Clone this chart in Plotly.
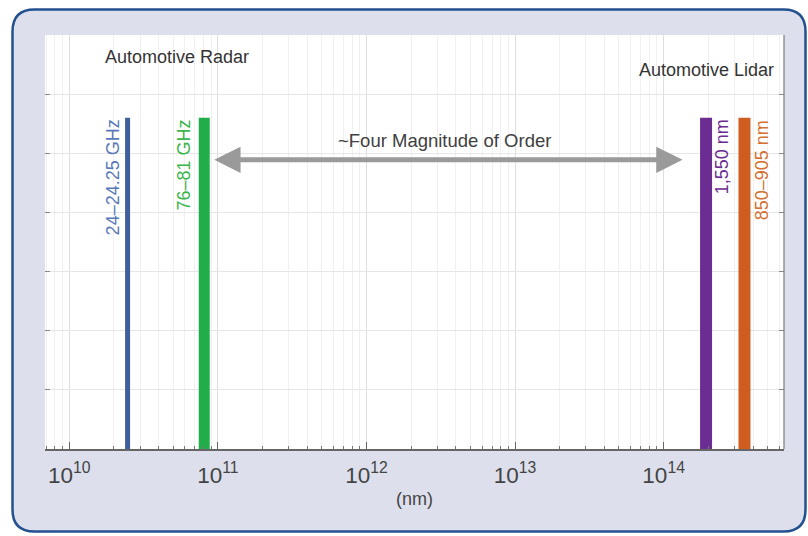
import plotly.graph_objects as go
import math

# ---- data ----
band_names = ["24–24.25 GHz", "76–81 GHz", "1,550 nm", "850–905 nm"]
band_x = [2.47e10, 8.1e10, 1.93e14, 3.5e14]
band_height = [5.6, 5.6, 5.6, 5.6]
band_colors = ["#3f5f9f", "#21ae4a", "#6b2d92", "#cf5d20"]
label_colors = ["#5878b8", "#3ab54a", "#6b2d92", "#d47030"]
band_widths = [5, 11, 12, 12]
label_shift = [-15, -20, 16, 17]

group_names = ["Automotive Radar", "Automotive Lidar"]
group_x = [5.3e10, 5.67e14]
group_y = [6.63, 6.41]

arrow_text = "~Four Magnitude of Order"
arrow_start = 9.25e10
arrow_end = 1.34e14
arrow_y = 4.89
arrow_text_x = 3.35e12
arrow_text_y = 5.22

x_title = "(nm)"

W, H = 808, 536
L, R, T, B = 45, 24, 35, 87
PW, PH = W - L - R, H - T - B


def px(x):
    return (x - L) / PW


def py(y):
    return (H - B - y) / PH


def rounded_rect(x0, y0, x1, y1, r):
    rx, ry = r / PW, r / PH
    X0, X1 = px(x0), px(x1)
    Y0, Y1 = py(y0), py(y1)
    return (f"M {X0+rx},{Y0} L {X1-rx},{Y0} Q {X1},{Y0} {X1},{Y0-ry} "
            f"L {X1},{Y1+ry} Q {X1},{Y1} {X1-rx},{Y1} "
            f"L {X0+rx},{Y1} Q {X0},{Y1} {X0},{Y1+ry} "
            f"L {X0},{Y0-ry} Q {X0},{Y0} {X0+rx},{Y0} Z")


fig = go.Figure()

for name, x, h, c, w in zip(band_names, band_x, band_height, band_colors, band_widths):
    fig.add_trace(go.Scatter(x=[x, x], y=[0, h], mode="lines",
                             line=dict(color=c, width=w), name=name,
                             showlegend=False, hoverinfo="skip"))

FONT = "Liberation Sans, Arial"
annotations = []
for name, x, h, c, s in zip(band_names, band_x, band_height, label_colors, label_shift):
    annotations.append(dict(x=math.log10(x), y=h, xref="x", yref="y", text=name,
                            showarrow=False, textangle=-90, xanchor="center",
                            yanchor="top", xshift=s,
                            font=dict(family=FONT, size=18, color=c)))

for name, x, y, anc in zip(group_names, group_x, group_y, ["center", "right"]):
    annotations.append(dict(x=math.log10(x), y=y, xref="x", yref="y", text=name,
                            showarrow=False, xanchor=anc, yanchor="middle",
                            font=dict(family=FONT, size=18, color="#333333")))

annotations.append(dict(x=math.log10(arrow_text_x), y=arrow_text_y, xref="x", yref="y",
                        text=arrow_text, showarrow=False,
                        font=dict(family=FONT, size=18.5, color="#404040")))

annotations.append(dict(x=math.log10(arrow_end), y=arrow_y, ax=math.log10(arrow_start), ay=arrow_y,
                        xref="x", yref="y", axref="x", ayref="y", text="",
                        showarrow=True, arrowhead=2, arrowside="end+start",
                        arrowsize=1.05, arrowwidth=5, arrowcolor="#9a9a9a"))

shapes = [
    dict(type="path", xref="paper", yref="paper", layer="below",
         path=rounded_rect(12.5, 9.5, 805.5, 531.5, 22),
         fillcolor="#dde0ec", line=dict(color="#23508e", width=2.5)),
    dict(type="rect", xref="paper", yref="paper", layer="below",
         x0=0, x1=1, y0=0, y1=1, fillcolor="white", line=dict(width=0)),
    dict(type="line", xref="paper", yref="paper", x0=1, x1=1, y0=0, y1=1,
         line=dict(color="#7a7a7a", width=1.2)),
]

fig.update_layout(
    width=W, height=H,
    margin=dict(l=L, r=R, t=T, b=B),
    paper_bgcolor="white", plot_bgcolor="white",
    shapes=shapes, annotations=annotations,
    font=dict(family=FONT, color="#444444"),
    xaxis=dict(type="log", range=[9.837, 14.81], dtick=1,
               exponentformat="power", showexponent="all",
               showline=True, linecolor="#666666", linewidth=1.5,
               ticks="inside", ticklen=7, tickcolor="#666666",
               ticklabelstandoff=6,
               tickfont=dict(size=18, color="#444444"),
               showgrid=True, gridcolor="#dedede", gridwidth=1,
               minor=dict(ticks="inside", ticklen=3, tickcolor="#777777",
                          dtick="D1", showgrid=True, gridcolor="#f0f0f0"),
               title=dict(text=x_title, font=dict(size=18, color="#444444"), standoff=6),
               zeroline=False),
    yaxis=dict(range=[0, 7], dtick=1, showticklabels=False,
               ticks="inside", ticklen=5, tickcolor="#888888", mirror="ticks",
               showline=False, showgrid=True, gridcolor="#e6e6e6", zeroline=False),
)

fig.write_html("out.html")
